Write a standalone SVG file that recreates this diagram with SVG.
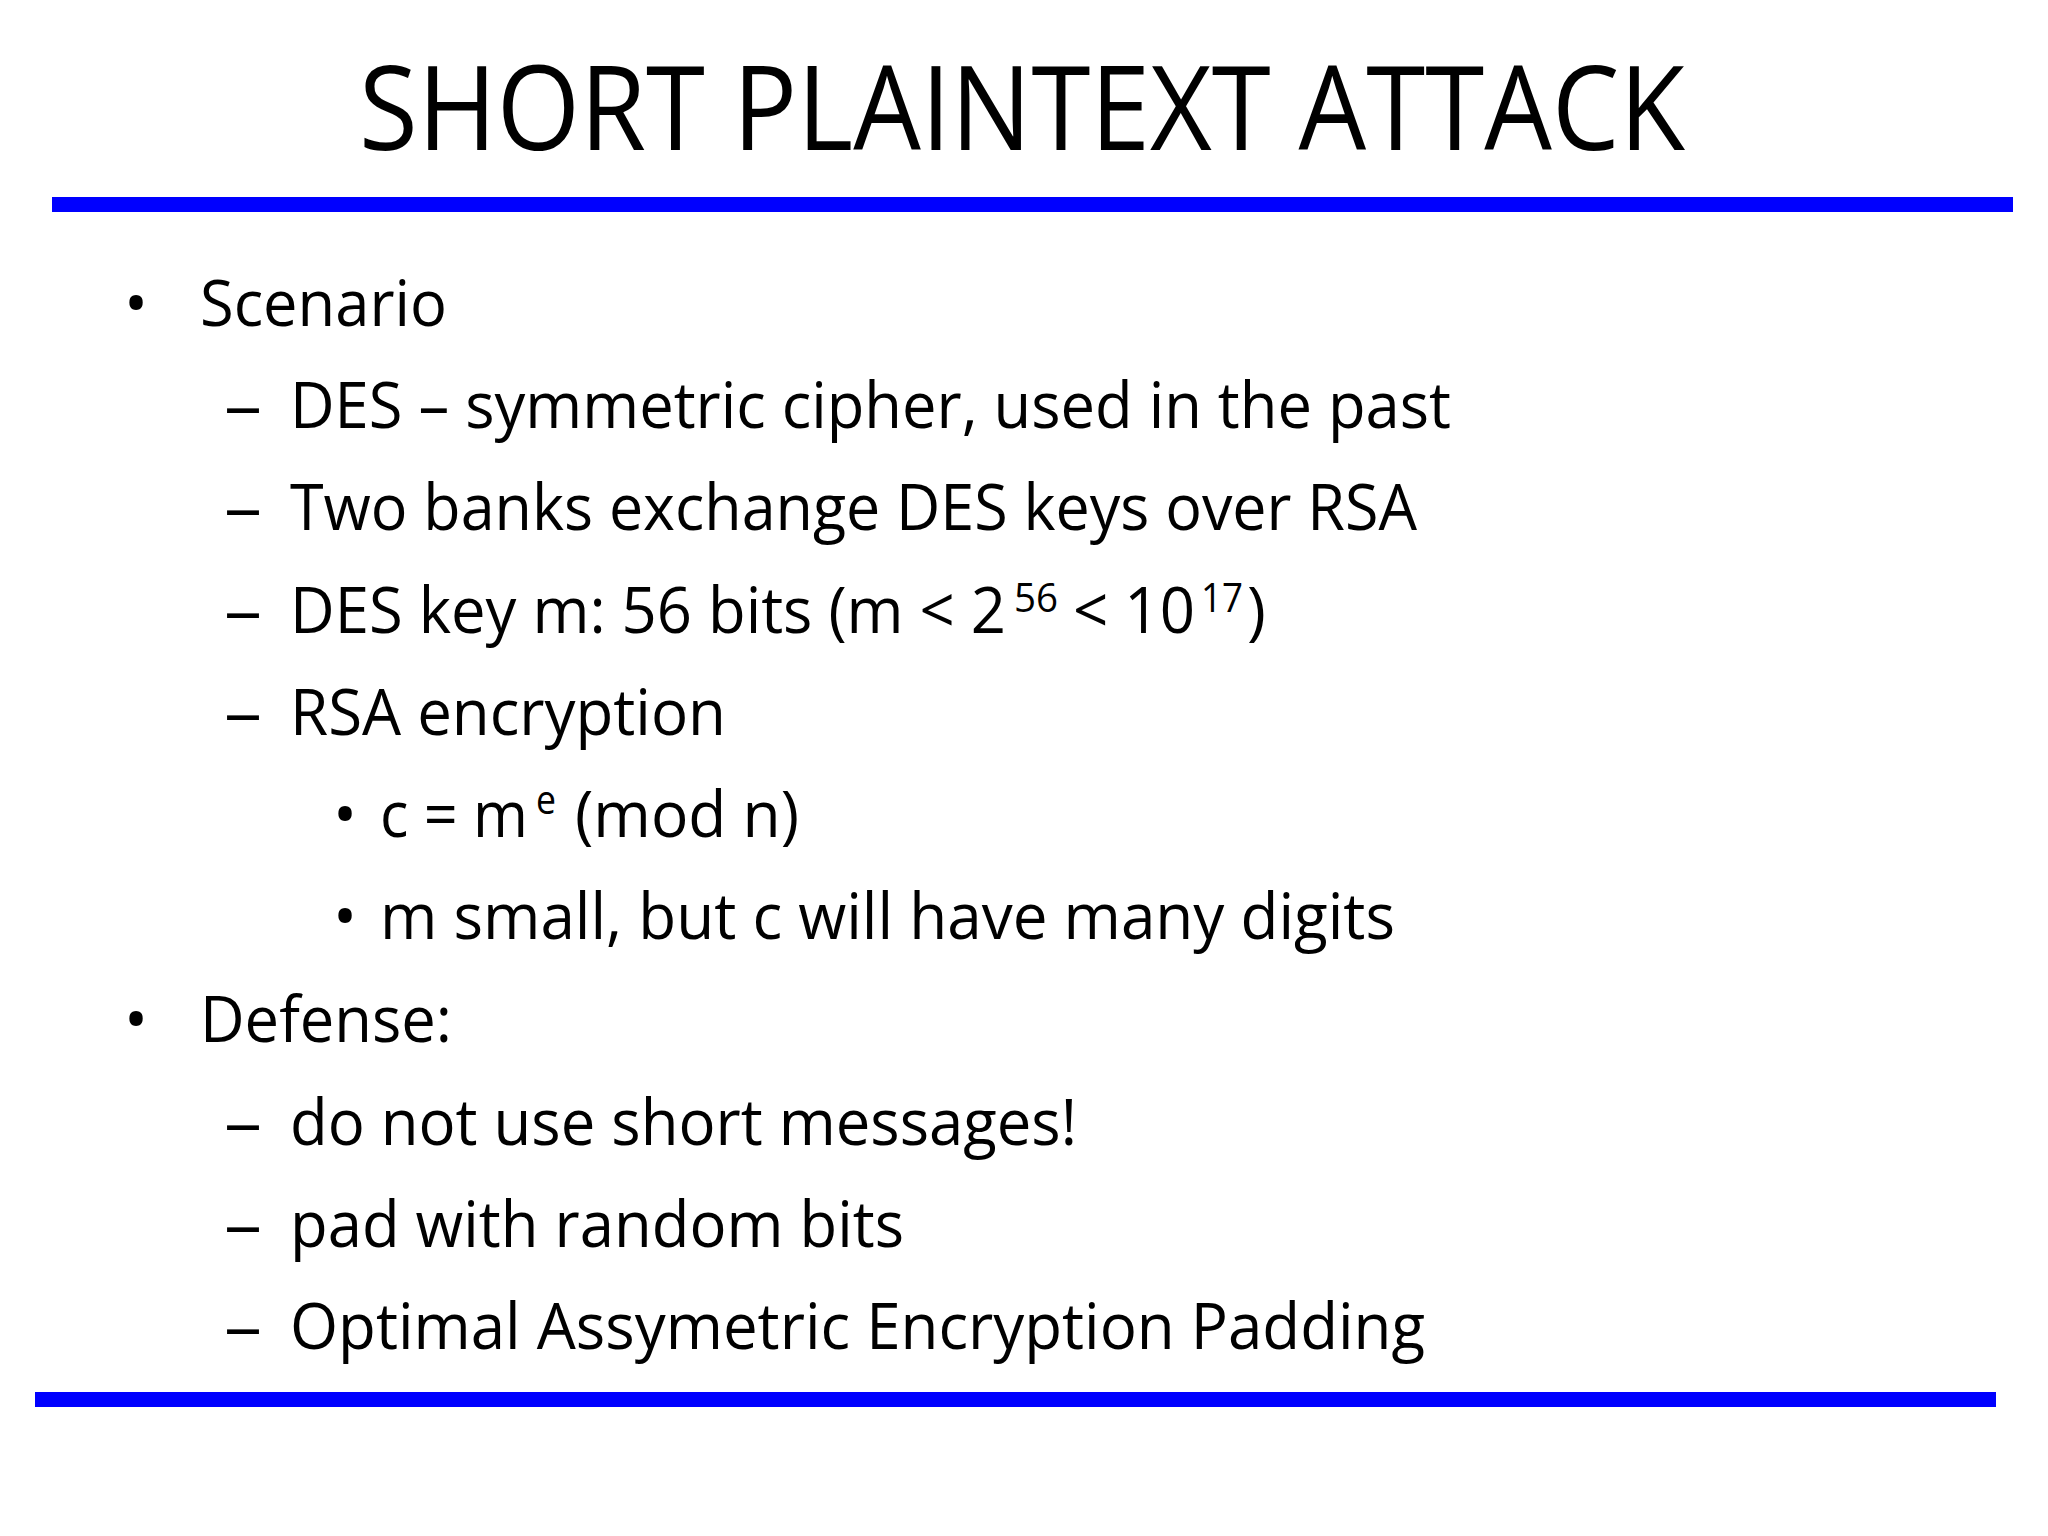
<svg xmlns="http://www.w3.org/2000/svg" width="2048" height="1536" viewBox="0 0 2048 1536">
<style>
text{font-family:"Open Sans","Liberation Sans",sans-serif;fill:#000}
.b{font-size:64px}
.s{font-size:40px}
.t{font-size:118px}
</style>
<rect width="2048" height="1536" fill="#fff"/>
<g id="title"><text class="t" x="359" y="150" textLength="1326" lengthAdjust="spacingAndGlyphs">SHORT PLAINTEXT ATTACK</text></g>
<g id="rules">
<rect x="52" y="197" width="1961" height="15" fill="#0000ff"/>
<rect x="35" y="1392" width="1961" height="15" fill="#0000ff"/>
</g>
<g id="marks" class="b">
<text x="124" y="326">•</text>
<text x="124" y="1042">•</text>
<text x="333" y="837">•</text>
<text x="333" y="939">•</text>
<text x="224" y="428" textLength="38" lengthAdjust="spacingAndGlyphs">–</text>
<text x="224" y="530" textLength="38" lengthAdjust="spacingAndGlyphs">–</text>
<text x="224" y="633" textLength="38" lengthAdjust="spacingAndGlyphs">–</text>
<text x="224" y="735" textLength="38" lengthAdjust="spacingAndGlyphs">–</text>
<text x="224" y="1145" textLength="38" lengthAdjust="spacingAndGlyphs">–</text>
<text x="224" y="1247" textLength="38" lengthAdjust="spacingAndGlyphs">–</text>
<text x="224" y="1349" textLength="38" lengthAdjust="spacingAndGlyphs">–</text>
</g>
<g id="body" class="b">
<text x="200" y="326" textLength="247" lengthAdjust="spacingAndGlyphs">Scenario</text>
<text x="290" y="428" textLength="1161" lengthAdjust="spacingAndGlyphs">DES – symmetric cipher, used in the past</text>
<text x="290" y="530" textLength="1127" lengthAdjust="spacingAndGlyphs">Two banks exchange DES keys over RSA</text>
<text x="290" y="633" textLength="716" lengthAdjust="spacingAndGlyphs">DES key m: 56 bits (m &lt; 2</text>
<text class="s" x="1014" y="612" textLength="44" lengthAdjust="spacingAndGlyphs">56</text>
<text x="1073" y="633" textLength="122" lengthAdjust="spacingAndGlyphs">&lt; 10</text>
<text class="s" x="1201" y="612" textLength="42" lengthAdjust="spacingAndGlyphs">17</text>
<text x="1247" y="633">)</text>
<text x="290" y="735" textLength="436" lengthAdjust="spacingAndGlyphs">RSA encryption</text>
<text x="380" y="837" textLength="148" lengthAdjust="spacingAndGlyphs">c = m</text>
<text class="s" x="536" y="814" textLength="20" lengthAdjust="spacingAndGlyphs">e</text>
<text x="575" y="837" textLength="224" lengthAdjust="spacingAndGlyphs">(mod n)</text>
<text x="380" y="939" textLength="1015" lengthAdjust="spacingAndGlyphs">m small, but c will have many digits</text>
<text x="200" y="1042" textLength="252" lengthAdjust="spacingAndGlyphs">Defense:</text>
<text x="290" y="1145" textLength="787" lengthAdjust="spacingAndGlyphs">do not use short messages!</text>
<text x="290" y="1247" textLength="614" lengthAdjust="spacingAndGlyphs">pad with random bits</text>
<text x="290" y="1349" textLength="1135" lengthAdjust="spacingAndGlyphs">Optimal Assymetric Encryption Padding</text>
</g>
</svg>
